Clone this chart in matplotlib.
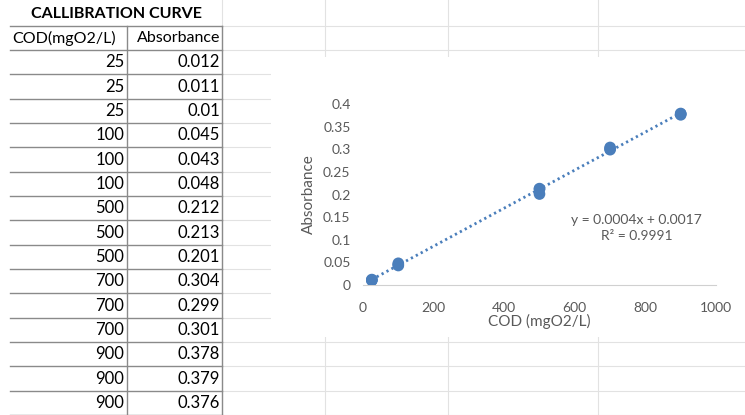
import numpy as np
import matplotlib
matplotlib.use("Agg")
from matplotlib import pyplot as plt

# table / chart data
cod = [25, 25, 25, 100, 100, 100, 500, 500, 500, 700, 700, 700, 900, 900, 900]
absorbance = [0.012, 0.011, 0.01, 0.045, 0.043, 0.048, 0.212, 0.213, 0.201,
              0.304, 0.299, 0.301, 0.378, 0.379, 0.376]
absorbance_txt = ["0.012", "0.011", "0.01", "0.045", "0.043", "0.048", "0.212", "0.213",
                  "0.201", "0.304", "0.299", "0.301", "0.378", "0.379", "0.376"]
x_ticks = [0, 200, 400, 600, 800, 1000]
y_ticks = [0, 0.05, 0.1, 0.15, 0.2, 0.25, 0.3, 0.35, 0.4]
y_tick_labels = ["0", "0.05", "0.1", "0.15", "0.2", "0.25", "0.3", "0.35", "0.4"]
eq_text = "y = 0.0004x + 0.0017\nR² = 0.9991"

W, H = 745, 415
FONT = ["Lato", "DejaVu Sans"]
plt.rcParams['font.family'] = FONT

fig = plt.figure(figsize=(W / 100, H / 100), dpi=100)
bg = fig.add_axes([0, 0, 1, 1])
bg.set_xlim(0, W)
bg.set_ylim(H, 0)
bg.axis("off")

# spreadsheet gridlines
row_h = (415 - 50) / 15.0
rows = [26, 50] + [50 + row_h * (i + 1) for i in range(15)]
grid_c = "#e2e2e2"
for y in rows:
    bg.plot([222, W], [y, y], color=grid_c, lw=0.8)
for x in [222, 325, 448, 598]:
    bg.plot([x, x], [0, H], color=grid_c, lw=0.8)

# white chart area hiding the sheet grid
bg.add_patch(plt.Rectangle((271, 57), W - 271, 280, facecolor="white", edgecolor="none", zorder=3))

# table borders
tc = "#8a8a8a"
for y in rows:
    bg.plot([10, 222], [y, y], color=tc, lw=1.0, zorder=4)
bg.plot([127, 127], [26, H], color=tc, lw=1.0, zorder=4)
bg.plot([222, 222], [26, H], color=tc, lw=1.0, zorder=4)

bg.text(116, 14, "CALLIBRATION CURVE", ha="center", va="center", fontsize=11.5,
        fontweight="bold", color="black", zorder=5)
bg.text(12, 38, "COD(mgO2/L)", ha="left", va="center", fontsize=11.5, zorder=5)
bg.text(220, 38, "Absorbance", ha="right", va="center", fontsize=11.5, zorder=5)
for i in range(len(cod)):
    yc = 50 + row_h * (i + 0.5)
    bg.text(124, yc, str(cod[i]), ha="right", va="center", fontsize=12, zorder=5)
    bg.text(220, yc, absorbance_txt[i], ha="right", va="center", fontsize=12, zorder=5)

# chart
ax = fig.add_axes([363 / W, (H - 285) / H, 353 / W, 181 / H])
ax.set_facecolor("none")
blue = "#4A7EBB"
gray = "#595959"

fit = np.polyfit(cod, absorbance, 1)
xs = np.array([min(cod), max(cod)])
ax.plot(xs, np.polyval(fit, xs), color=blue, lw=2, linestyle=(0, (0.8, 1.2)), zorder=2)
ax.scatter(cod, absorbance, s=70, color=blue, edgecolors="none", zorder=3)

ax.set_xlim(0, 1000)
ax.set_ylim(0, 0.4)
ax.set_xticks(x_ticks)
ax.set_yticks(y_ticks)
ax.set_yticklabels(y_tick_labels)
ax.tick_params(axis="y", length=0, labelsize=10, colors=gray, pad=9)
ax.tick_params(axis="x", length=0, labelsize=10, colors=gray, pad=12)
for s in ["top", "right", "left"]:
    ax.spines[s].set_visible(False)
ax.spines["bottom"].set_color("#d0d0d0")
ax.set_xlabel("COD (mgO2/L)", fontsize=11, color=gray, labelpad=0)
ax.set_ylabel("Absorbance", fontsize=11, color=gray, labelpad=5)
ax.text(775, 0.126, eq_text, ha="center", va="center", fontsize=10, color=gray,
        linespacing=1.35)

fig.savefig("out.png", dpi=100)
